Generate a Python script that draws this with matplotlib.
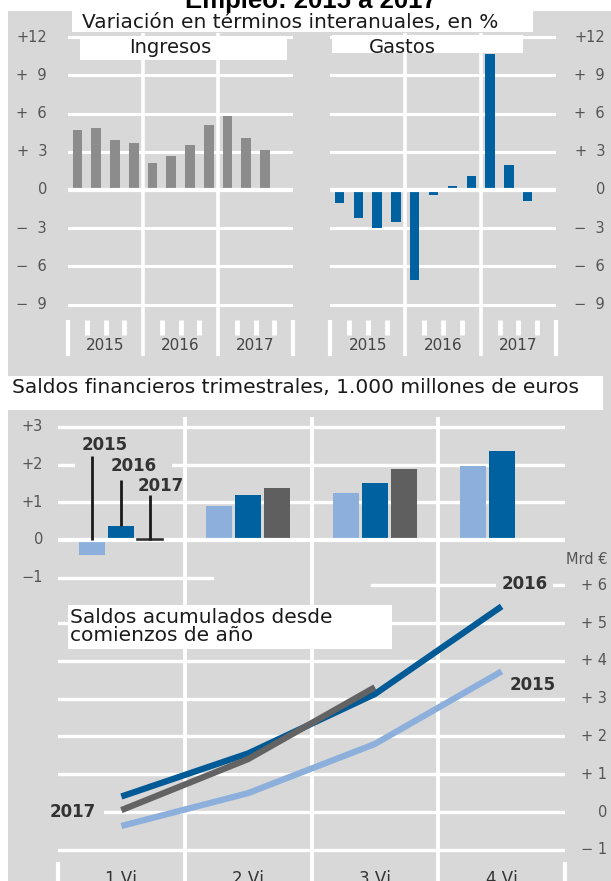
import numpy as np
import matplotlib
matplotlib.use("Agg")
import matplotlib.pyplot as plt
from matplotlib.patches import Rectangle
from matplotlib.transforms import blended_transform_factory as btf

# ---------------- data ----------------
years = ["2015", "2016", "2017"]
ingresos = [4.7, 4.9, 3.95, 3.7, 2.1, 2.7, 3.55, 5.1, 5.8, 4.1, 3.15]
gastos = [-1.0, -2.2, -3.0, -2.5, -7.1, -0.4, 0.3, 1.1, 10.7, 2.0, -0.9]
top_ticks = [12, 9, 6, 3, 0, -3, -6, -9]
top_tick_labels = ["+12", "+\u20079", "+\u20076", "+\u20073", "0",
                   "\u2212\u20073", "\u2212\u20076", "\u2212\u20079"]

periods = ["1 Vj", "2 Vj", "3 Vj", "4 Vj"]
saldo_2015 = [-0.4, 0.89, 1.25, 1.95]
saldo_2016 = [0.38, 1.18, 1.51, 2.35]
saldo_2017 = [0.03, 1.38, 1.88]
mid_ticks = [3, 2, 1, 0, -1]
mid_tick_labels = ["+3", "+2", "+1", "0", "\u22121"]

acum_2015 = [-0.37, 0.50, 1.80, 3.72]
acum_2016 = [0.41, 1.55, 3.12, 5.44]
acum_2017 = [0.05, 1.40, 3.30]
low_ticks = [6, 5, 4, 3, 2, 1, 0, -1]
low_tick_labels = ["+ 6", "+ 5", "+ 4", "+ 3", "+ 2", "+ 1", "0", "\u2212 1"]

# ---------------- style ----------------
GREY = "#d8d8d8"
C_ING = "#8c8c8c"
C_BLUE = "#0061a0"
C_LIGHT = "#8cb0db"
C_DARK = "#5f5f5f"
TXT = "#1a1a1a"
TICK = "#555555"
FONT = "DejaVu Sans"

W, H = 611, 881
fig = plt.figure(figsize=(W / 100, H / 100), dpi=100)
fig.patch.set_facecolor("white")


def rect(x0, y0, x1, y1):
    return [x0 / W, 1 - y1 / H, (x1 - x0) / W, (y1 - y0) / H]


# background
bg = fig.add_axes([0, 0, 1, 1], zorder=0)
bg.set_xlim(0, W)
bg.set_ylim(H, 0)
bg.axis("off")
bg.add_patch(Rectangle((8, 11), W - 8, H - 11, color=GREY, lw=0))

# ---------------- top panels ----------------
TOP_YLIM = (-13.04, 12.33)


def top_panel(box, values, color, labels_x, bar_w):
    ax = fig.add_axes(rect(*box), zorder=1)
    ax.set_xlim(0, 12)
    ax.set_ylim(*TOP_YLIM)
    ax.axis("off")
    ax.patch.set_alpha(0)
    for t in top_ticks:
        ax.axhline(t, color="white", lw=3.0 if t == 0 else 2.2,
                   zorder=3 if t == 0 else 1)
    for s in (4, 8):
        ax.axvline(s, color="white", lw=2.6, zorder=1)
    for s in (0, 12):
        ax.plot([s, s], [-10.21, TOP_YLIM[0]], color="white", lw=3,
                solid_capstyle="butt", clip_on=False, zorder=1)
    for s in (1, 2, 3, 5, 6, 7, 9, 10, 11):
        ax.plot([s, s], [-10.21, -11.39], color="white", lw=3.5,
                solid_capstyle="butt", zorder=1)
    x = np.arange(len(values)) + 0.5
    ax.bar(x, values, width=bar_w, color=color, zorder=2, lw=0)
    for i, y in enumerate(years):
        ax.text(2 + 4 * i, -12.18, y, ha="center", va="center",
                fontsize=11, color="#444444", family=FONT)
    tr = btf(ax.transAxes, ax.transData)
    for t, lab in zip(top_ticks, top_tick_labels):
        ax.text(labels_x, t, lab, transform=tr, ha="right", va="center",
                fontsize=10.5, color=TICK, family=FONT, clip_on=False)
    return ax


axL = top_panel((68, 33, 293, 356), ingresos, C_ING, -0.093, 0.52)
axR = top_panel((330, 33, 556, 356), gastos, C_BLUE, 1.217, 0.5)

# ---------------- middle + lower frame ----------------
axF = fig.add_axes(rect(58, 417, 565, 881), zorder=1)
axF.set_xlim(-0.5, 3.5)
axF.set_ylim(0, 1)
axF.axis("off")
axF.patch.set_alpha(0)
for s in (0.5, 1.5, 2.5):
    axF.axvline(s, color="white", lw=2.8)

# middle chart: quarterly balances
axM = fig.add_axes(rect(58, 417, 565, 583), zorder=2)
axM.set_xlim(-0.5, 3.5)
axM.set_ylim(-1.14, 3.26)
axM.axis("off")
axM.patch.set_alpha(0)
for t in mid_ticks:
    if t == -1:
        axM.plot([-0.5, 0.715], [t, t], color="white", lw=2.4, zorder=1)
    else:
        axM.axhline(t, color="white", lw=3.0 if t == 0 else 2.4,
                    zorder=4 if t == 0 else 1)
OFF, BW = 0.229, 0.205
xg = np.arange(len(periods))
axM.bar(xg - OFF, saldo_2015, width=BW, color=C_LIGHT, zorder=3, lw=0)
axM.bar(xg, saldo_2016, width=BW, color=C_BLUE, zorder=3, lw=0)
x17 = xg[:len(saldo_2017)] + OFF
axM.bar(x17[1:], saldo_2017[1:], width=BW, color=C_DARK, zorder=3, lw=0)
axM.bar(x17[:1], saldo_2017[:1], width=BW, color="#333333", zorder=5,
        lw=1.2, edgecolor="#333333")
tr = btf(axM.transAxes, axM.transData)
for t, lab in zip(mid_ticks, mid_tick_labels):
    axM.text(-0.0296, t, lab, transform=tr, ha="right", va="center",
             fontsize=10.5, color=TICK, family=FONT, clip_on=False)
# leader lines with year labels
axM.add_patch(Rectangle((-0.366, 1.86), 0.765, 0.28, color=GREY, lw=0, zorder=2))
leaders = [(xg[0] - OFF, 0.0, 2.23), (xg[0], saldo_2016[0], 1.58),
           (xg[0] + OFF, 0.0, 1.19)]
lab_pos = [(-0.133, 2.52), (0.095, 1.96), (0.312, 1.43)]
for (lx, y0, y1), (tx, ty), yr in zip(leaders, lab_pos, years):
    axM.plot([lx, lx], [y0, y1], color="#1a1a1a", lw=2, zorder=6,
             solid_capstyle="butt")
    axM.text(tx, ty, yr, ha="center", va="center", fontsize=12,
             fontweight="bold", color="#333333", family=FONT, zorder=7)

# lower chart: cumulative balances
axB = fig.add_axes(rect(58, 575, 565, 881), zorder=2)
axB.set_xlim(-0.5, 3.5)
axB.set_ylim(-1.825, 6.27)
axB.axis("off")
axB.patch.set_alpha(0)
for t in low_ticks:
    if t == 6:
        axB.plot([1.976, 3.5], [t, t], color="white", lw=2.4, zorder=1)
    else:
        axB.axhline(t, color="white", lw=2.4, zorder=1)
for s in (-0.5, 3.5):
    axB.plot([s, s], [-1.32, -1.825], color="white", lw=3,
             solid_capstyle="butt", clip_on=False)
axB.plot(xg, acum_2015, color=C_LIGHT, lw=4.5, solid_capstyle="butt", zorder=3)
axB.plot(xg, acum_2016, color="#005a96", lw=4.5, solid_capstyle="butt", zorder=4)
axB.plot(xg[:len(acum_2017)], acum_2017, color="#636363", lw=4.5,
         solid_capstyle="butt", zorder=5)
axB.text(3.183, 6.03, "2016", ha="center", va="center", fontsize=12,
         fontweight="bold", color="#333333", family=FONT, zorder=6,
         bbox=dict(fc=GREY, ec="none", pad=4))
axB.text(3.246, 3.36, "2015", ha="center", va="center", fontsize=12,
         fontweight="bold", color="#333333", family=FONT, zorder=6)
axB.text(-0.386, 0.0, "2017", ha="center", va="center", fontsize=12,
         fontweight="bold", color="#333333", family=FONT, zorder=6,
         bbox=dict(fc=GREY, ec="none", pad=6), clip_on=False)
tr = btf(axB.transAxes, axB.transData)
for t, lab in zip(low_ticks, low_tick_labels):
    axB.text(1.083, t, lab, transform=tr, ha="right", va="center",
             fontsize=10.5, color=TICK, family=FONT, clip_on=False)
axB.text(1.083, 6.67, "Mrd \u20ac", transform=tr, ha="right", va="center",
         fontsize=10.5, color=TICK, family=FONT, clip_on=False)
for i, p in enumerate(periods):
    axB.text(i, -1.905, p, ha="center", va="baseline", fontsize=12,
             color="#333333", family=FONT, clip_on=False)

# ---------------- overlay: title, white boxes ----------------
ov = fig.add_axes([0, 0, 1, 1], zorder=10)
ov.set_xlim(0, W)
ov.set_ylim(H, 0)
ov.axis("off")
ov.patch.set_alpha(0)
for (x0, y0, x1, y1) in [(72, 11, 533, 32), (80, 36, 287, 60),
                         (332, 35, 523, 53), (0, 376, 603, 410),
                         (68, 605, 392, 649)]:
    ov.add_patch(Rectangle((x0, y0), x1 - x0, y1 - y0, color="white", lw=0))
ov.text(311, 8, "Empleo: 2015 a 2017", ha="center", va="baseline",
        fontsize=18.5, fontweight="bold", color="black", family="Liberation Sans")
ov.text(290, 28, "Variación en términos interanuales, en %", ha="center",
        va="baseline", fontsize=14.5, color=TXT, family=FONT)
ov.text(170, 53, "Ingresos", ha="center", va="baseline", fontsize=14,
        color=TXT, family=FONT)
ov.text(402, 53, "Gastos", ha="center", va="baseline", fontsize=14,
        color=TXT, family=FONT)
ov.text(12, 393, "Saldos financieros trimestrales, 1.000 millones de euros",
        ha="left", va="baseline", fontsize=14.5, color=TXT, family=FONT)
ov.text(70, 623, "Saldos acumulados desde", ha="left", va="baseline",
        fontsize=14.5, color=TXT, family=FONT)
ov.text(70, 641, "comienzos de año", ha="left", va="baseline",
        fontsize=14.5, color=TXT, family=FONT)

fig.savefig("out.png", dpi=100)
